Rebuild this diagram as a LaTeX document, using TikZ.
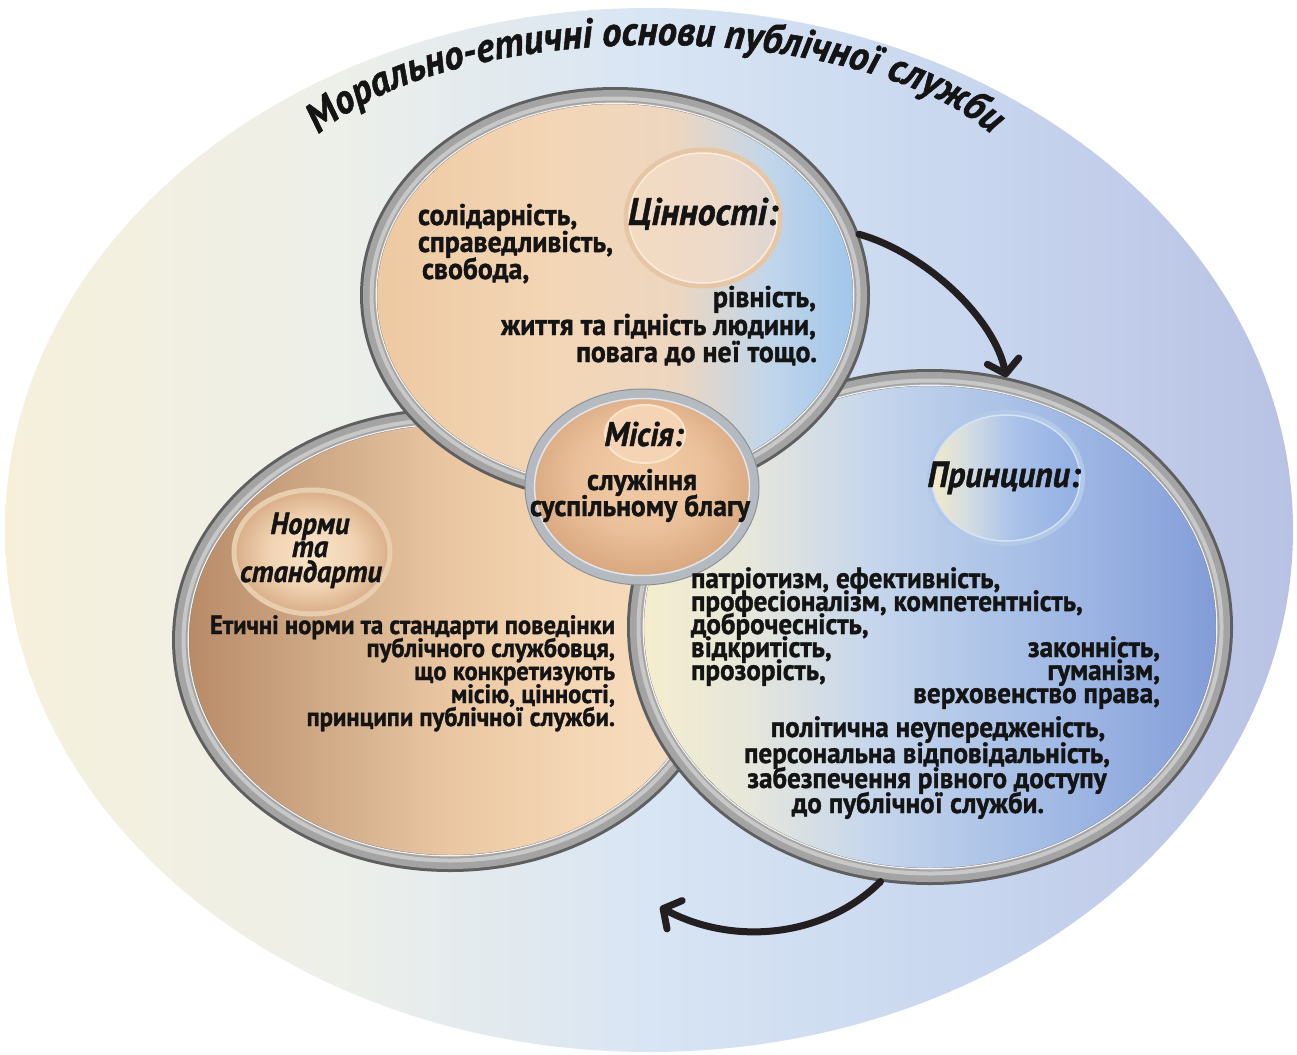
\documentclass[tikz,border=0pt]{standalone}
\usepackage{fontspec}
\setmainfont{PT Sans}[FakeStretch=0.93, BoldFeatures={FakeBold=1.2}, BoldItalicFeatures={FakeBold=1.2}]
\usetikzlibrary{shapes.geometric,arrows.meta,decorations.text}

\definecolor{ink}{HTML}{141414}
\definecolor{bg1}{HTML}{F6F0DB}
\definecolor{bg2}{HTML}{EDEFE9}
\definecolor{bg3}{HTML}{D8E5F4}
\definecolor{bg4}{HTML}{C9D7EF}
\definecolor{bg5}{HTML}{B8C2E4}
\definecolor{ringdark}{HTML}{5F5F5F}
\definecolor{ringmid}{HTML}{A4A4A4}
\definecolor{ringlight}{HTML}{C8C8C8}
\definecolor{ringhi}{HTML}{F2F2F2}
\definecolor{arrowc}{HTML}{231F20}
\definecolor{va1}{HTML}{EDC8A0}
\definecolor{va2}{HTML}{F3D6B6}
\definecolor{va3}{HTML}{EDD6C0}
\definecolor{va4}{HTML}{C2D6EA}
\definecolor{va5}{HTML}{9CC3EA}
\definecolor{no1}{HTML}{B68864}
\definecolor{no2}{HTML}{CDA684}
\definecolor{no3}{HTML}{EAC7A2}
\definecolor{no4}{HTML}{F4D6B4}
\definecolor{no5}{HTML}{F7E0C6}
\definecolor{pr1}{HTML}{F7EECB}
\definecolor{pr2}{HTML}{E6E7DB}
\definecolor{pr3}{HTML}{C6D6EC}
\definecolor{pr4}{HTML}{A7BFE6}
\definecolor{pr5}{HTML}{8CA6DD}
\definecolor{pr6}{HTML}{7E98D5}
\definecolor{mi1}{HTML}{F2CCA7}
\definecolor{mi2}{HTML}{EBC19B}
\definecolor{mi3}{HTML}{D9A880}
\definecolor{ni1}{HTML}{F8E4C9}
\definecolor{ni2}{HTML}{F1D3B2}
\definecolor{ni3}{HTML}{D9AE88}
\definecolor{vi1}{HTML}{F3DBC1}
\definecolor{vi2}{HTML}{EEDACA}
\definecolor{vi3}{HTML}{DCD6D3}
\definecolor{pi1}{HTML}{F6EBC6}
\definecolor{pi2}{HTML}{D2DCE2}
\definecolor{pi3}{HTML}{ABC3E9}
\definecolor{pi4}{HTML}{90AEE3}
\definecolor{misring}{HTML}{B5BAC1}
\definecolor{misedge}{HTML}{8C929A}
\definecolor{mishi}{HTML}{E2E5E9}
\definecolor{valrim}{HTML}{E7C6A5}
\definecolor{valrimhi}{HTML}{FAECDC}
\definecolor{norrim}{HTML}{E9CDAF}
\definecolor{pririm}{HTML}{B3C9EA}
\definecolor{pririmhi}{HTML}{D6E3F3}
\definecolor{misinfill}{HTML}{F4D4B5}
\definecolor{misinrim}{HTML}{FBE3CC}

\pgfdeclarehorizontalshading{bgshade}{100bp}{color(0bp)=(bg1); color(25bp)=(bg1); color(38bp)=(bg2); color(50bp)=(bg3); color(62bp)=(bg4); color(75bp)=(bg5); color(100bp)=(bg5)}
\pgfdeclarehorizontalshading{valshade}{100bp}{color(0bp)=(va1); color(25bp)=(va1); color(44bp)=(va2); color(56bp)=(va3); color(65bp)=(va4); color(75bp)=(va5); color(100bp)=(va5)}
\pgfdeclarehorizontalshading{norshade}{100bp}{color(0bp)=(no1); color(25bp)=(no1); color(37bp)=(no2); color(50bp)=(no3); color(61bp)=(no4); color(75bp)=(no5); color(100bp)=(no5)}
\pgfdeclarehorizontalshading{prishade}{100bp}{color(0bp)=(pr1); color(25bp)=(pr1); color(35bp)=(pr2); color(45bp)=(pr3); color(58bp)=(pr4); color(70bp)=(pr5); color(75bp)=(pr6); color(100bp)=(pr6)}
\pgfdeclareradialshading{misshade}{\pgfpoint{0bp}{4bp}}{color(0bp)=(mi1); color(14bp)=(mi2); color(25bp)=(mi3); color(50bp)=(mi3)}
\pgfdeclareradialshading{norinner}{\pgfpoint{0bp}{0bp}}{color(0bp)=(ni1); color(14bp)=(ni2); color(25bp)=(ni3); color(50bp)=(ni3)}
\pgfdeclarehorizontalshading{valinner}{100bp}{color(0bp)=(vi1); color(25bp)=(vi1); color(55bp)=(vi2); color(75bp)=(vi3); color(100bp)=(vi3)}
\pgfdeclarehorizontalshading{priinner}{100bp}{color(0bp)=(pi1); color(25bp)=(pi1); color(38bp)=(pi2); color(52bp)=(pi3); color(75bp)=(pi4); color(100bp)=(pi4)}

\newlength\fitw
\newcommand\fitfont[4]{%
  \settowidth\fitw{#2\fontsize{10}{12}\selectfont #4}%
  \pgfmathsetmacro#1{10*#3/\fitw}}

\newcommand\ringdraw[3]{%
  \draw[line width=17pt, ringdark] #1 ellipse [x radius=#2-8.5, y radius=#3-8.5];
  \draw[line width=13pt, ringmid] #1 ellipse [x radius=#2-9.5, y radius=#3-9.5];
  \draw[line width=4pt, ringlight] #1 ellipse [x radius=#2-11.5, y radius=#3-11.5];
  \draw[line width=1.2pt, ringhi] #1 ellipse [x radius=#2-16.2, y radius=#3-16.2];
}

\newcommand\titlefont{\bfseries\itshape\fontsize{\fsTi}{\fsTi}\selectfont\color{ink}}

\begin{document}
\fitfont{\fsT}{\bfseries}{315}{життя та гідність людини,}%
\fitfont{\fsL}{\bfseries}{405}{Етичні норми та стандарти поведінки}%
\fitfont{\fsR}{\bfseries}{366}{персональна відповідальність,}%
\fitfont{\fsM}{\bfseries}{220}{суспільному благу}%
\fitfont{\fsHV}{\bfseries\itshape}{150}{Цінності:}%
\fitfont{\fsHP}{\bfseries\itshape}{153}{Принципи:}%
\fitfont{\fsHM}{\bfseries\itshape}{79}{Місія:}%
\fitfont{\fsHN}{\bfseries\itshape}{142}{стандарти}%
\fitfont{\fsTi}{\bfseries\itshape}{708}{Морально-етичні основи публічної служби}%
\begin{tikzpicture}[x=1pt,y=-1pt,
  txt/.style={inner sep=0pt, outer sep=0pt, text=ink},
  tb/.style={txt, font=\bfseries\fontsize{\fsT}{\fsT}\selectfont},
  lb/.style={txt, font=\bfseries\fontsize{\fsL}{\fsL}\selectfont},
  rb/.style={txt, font=\bfseries\fontsize{\fsR}{\fsR}\selectfont},
  mb/.style={txt, font=\bfseries\fontsize{\fsM}{\fsM}\selectfont},
  hv/.style={txt, font=\bfseries\itshape\fontsize{\fsHV}{\fsHV}\selectfont},
  hp/.style={txt, font=\bfseries\itshape\fontsize{\fsHP}{\fsHP}\selectfont},
  hm/.style={txt, font=\bfseries\itshape\fontsize{\fsHM}{\fsHM}\selectfont},
  hn/.style={txt, font=\bfseries\itshape\fontsize{\fsHN}{\fsHN}\selectfont},
  zone/.style={ellipse, inner sep=0pt, outer sep=0pt},
  arr/.style={line width=7pt, arrowc, line cap=round, -{Straight Barb[length=13pt, width=32pt, round]}}
]
\useasboundingbox (0,0) rectangle (1297,1054);
\fill[white] (0,0) rectangle (1297,1054);

% background ellipse
\shade[shading=bgshade] (649,530) ellipse [x radius=644, y radius=522];

% title along arc
\coordinate (ts) at (303,150);
\coordinate (te) at (1007,150);
\path[decorate, decoration={text along path, text align=center,
   text={|\titlefont|Морально-етичні основи публічної служби}}]
   (ts) .. controls (425,10) and (885,10) .. (te);

% left circle: norms
\shade[shading=norshade] (450,640) ellipse [x radius=276, y radius=230];
\ringdraw{(450,640)}{278}{232}
\node[zone, minimum width=556pt, minimum height=464pt] (nor) at (450,640) {};

% right circle: principles
\shade[shading=prishade] (930,627) ellipse [x radius=301, y radius=256];
\ringdraw{(930,627)}{303}{258}
\node[zone, minimum width=606pt, minimum height=516pt] (pri) at (930,627) {};

% top circle: values
\shade[shading=valshade] (615,295) ellipse [x radius=253, y radius=206];
\ringdraw{(615,295)}{255}{208}
\node[zone, minimum width=510pt, minimum height=416pt] (val) at (615,295) {};

% mission circle
\shade[shading=misshade] (642,487) ellipse [x radius=115, y radius=96];
\draw[line width=10pt, misring] (642,487) ellipse [x radius=112, y radius=93];
\draw[line width=1pt, misedge] (642,487) ellipse [x radius=117, y radius=98];
\draw[line width=1.5pt, mishi] (642,487) ellipse [x radius=107.5, y radius=88.5];
\node[zone, minimum width=234pt, minimum height=196pt] (mis) at (642,487) {};

% inner header circles
\draw[line width=5pt, valrim, shading=valinner, shade] (703,218) ellipse [x radius=77, y radius=68];
\draw[line width=1.5pt, valrimhi] (703,218) ellipse [x radius=74, y radius=65];

\draw[line width=5pt, norrim, shading=norinner, shade] (312,552) ellipse [x radius=78, y radius=62];

\draw[line width=4pt, pririm, shading=priinner, shade] (1006,478) ellipse [x radius=77, y radius=66];
\draw[line width=1.5pt, pririmhi] (1006,478) ellipse [x radius=74, y radius=63];

\draw[line width=2pt, misinrim, fill=misinfill] (645,434) ellipse [x radius=40, y radius=29];

% headings
\node[hv, anchor=base] (hval) at (703,225) {Цінності:};
\node[hm, anchor=base] (hmis) at (644,446) {Місія:};
\node[hn, anchor=base] (hnor1) at (310,534) {Норми};
\node[hn, anchor=base] (hnor2) at (310,557) {та};
\node[hn, anchor=base] (hnor3) at (311,582) {стандарти};
\node[hp, anchor=base] (hpri) at (1004,487) {Принципи:};

% values text
\node[tb, anchor=base west] (v1) at (418,225) {солідарність,};
\node[tb, anchor=base west] (v2) at (418,252) {справедливість,};
\node[tb, anchor=base west] (v3) at (422,279) {свобода,};
\node[tb, anchor=base east] (v4) at (816,307) {рівність,};
\node[tb, anchor=base east] (v5) at (816,335) {життя та гідність людини,};
\node[tb, anchor=base east] (v6) at (817,362) {повага до неї тощо.};

% mission text
\node[mb, anchor=base] (m1) at (642,490) {служіння};
\node[mb, anchor=base] (m2) at (640,516) {суспільному благу};

% norms text
\node[lb, anchor=base east] (n1) at (615,634) {Етичні норми та стандарти поведінки};
\node[lb, anchor=base east] (n2) at (615,657) {публічного службовця,};
\node[lb, anchor=base east] (n3) at (615,680) {що конкретизують};
\node[lb, anchor=base east] (n4) at (615,703) {місію, цінності,};
\node[lb, anchor=base east] (n5) at (615,726) {принципи публічної служби.};

% principles text
\node[rb, anchor=base west] (p1) at (691,588) {патріотизм, ефективність,};
\node[rb, anchor=base west] (p2) at (691,611) {професіоналізм, компетентність,};
\node[rb, anchor=base west] (p3) at (691,634) {доброчесність,};
\node[rb, anchor=base west] (p4) at (691,657) {відкритість,};
\node[rb, anchor=base west] (p5) at (691,680) {прозорість,};
\node[rb, anchor=base east] (p6) at (1160,657) {законність,};
\node[rb, anchor=base east] (p7) at (1160,680) {гуманізм,};
\node[rb, anchor=base east] (p8) at (1160,703) {верховенство права,};
\node[rb, anchor=base] (p9) at (938,737) {політична неупередженість,};
\node[rb, anchor=base] (p10) at (927,763) {персональна відповідальність,};
\node[rb, anchor=base] (p11) at (927,788) {забезпечення рівного доступу};
\node[rb, anchor=base] (p12) at (918,813) {до публічної служби.};

% arrows
\coordinate (a2e) at (660,907);
\draw[arr] (val.14) .. controls +(65,18) and +(-12,-60) .. (pri.73);
\draw[arr] (pri.259) .. controls +(-55,55) and +(75,40) .. (a2e);
\end{tikzpicture}
\end{document}
